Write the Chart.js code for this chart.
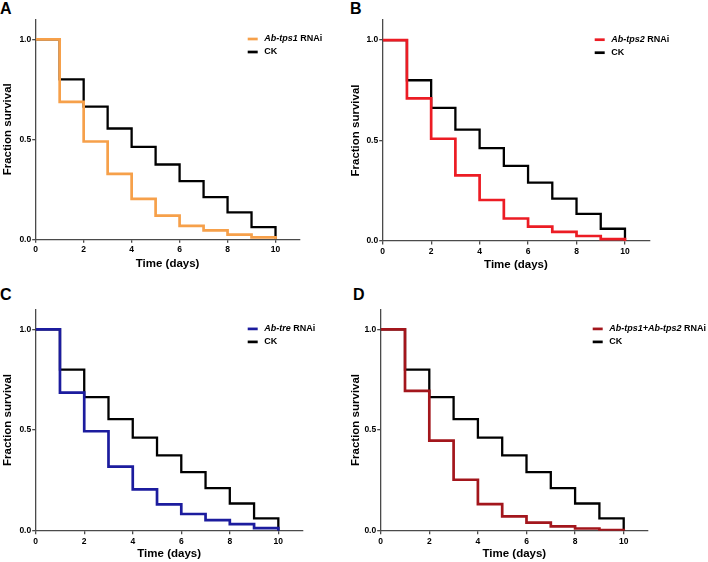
<!DOCTYPE html>
<html>
<head>
<meta charset="utf-8">
<script src="https://cdn.jsdelivr.net/npm/chart.js@4.4.0/dist/chart.umd.min.js"></script>
<style>
  html, body { margin: 0; padding: 0; background: #fff; }
  body { width: 708px; height: 562px; position: relative; overflow: hidden; font-family: "Liberation Sans", Arial, sans-serif; }
  canvas { position: absolute; }
  .tag { position: absolute; font-weight: bold; font-size: 16px; line-height: 16px; color: #000; }
</style>
</head>
<body>
<div class="tag" style="left:0px;top:1px">A</div>
<div class="tag" style="left:350px;top:1px">B</div>
<div class="tag" style="left:0px;top:287px">C</div>
<div class="tag" style="left:353px;top:287px">D</div>
<canvas id="chartA"></canvas>
<canvas id="chartB"></canvas>
<canvas id="chartC"></canvas>
<canvas id="chartD"></canvas>
<script>
// survival data (value after each day's drop)
const days = [0, 1, 2, 3, 4, 5, 6, 7, 8, 9, 10];
const ckSurvival   = [1, 0.80, 0.663, 0.554, 0.462, 0.374, 0.291, 0.211, 0.135, 0.061, 0];
const tps1Survival = [1, 0.687, 0.489, 0.327, 0.202, 0.118, 0.067, 0.045, 0.023, 0.010, 0];
const tps2Survival = [1, 0.710, 0.509, 0.327, 0.204, 0.112, 0.072, 0.045, 0.025, 0.009, 0];
const treSurvival  = [1, 0.686, 0.494, 0.318, 0.205, 0.131, 0.083, 0.053, 0.033, 0.013, 0];
const bothSurvival = [1, 0.694, 0.447, 0.253, 0.132, 0.071, 0.040, 0.021, 0.011, 0.003, 0];

const xTicks = [0, 2, 4, 6, 8, 10];
const yTicks = [0, 0.5, 1.0];

Chart.defaults.font.family = '"Liberation Sans", Arial, sans-serif';

const axisColor = '#4a4a4a';
const tickFont = { size: 8.5, weight: 'bold' };
const titleFont = { size: 11.5, weight: 'bold', lineHeight: 1.2 };
const halfTitle = 11.5 * 1.2 / 2;

function toPoints(vals) {
    return days.map((d, i) => ({ x: d, y: vals[i] }));
}

function makePanel(id, box, area, yTitleX, xTitleY, series, color, labelParts) {
    const cv = document.getElementById(id);
    cv.style.left = box[0] + 'px';
    cv.style.top = box[1] + 'px';
    cv.width = box[2];
    cv.height = box[3];
    const canvasBottom = box[1] + box[3];

    // legend with italic gene names
    const legendPlugin = {
        id: 'legend_' + id,
        afterDraw(chart) {
            const ctx = chart.ctx;
            const a = chart.chartArea;
            const x0 = a.left + 212;
            const y0 = a.top + 19.7;
            const rows = [
                { color: color, parts: labelParts },
                { color: '#000', parts: [{ t: 'CK' }] }
            ];
            ctx.save();
            rows.forEach((r, i) => {
                const y = y0 + i * 13;
                ctx.strokeStyle = r.color;
                ctx.lineWidth = 2.7;
                ctx.beginPath();
                ctx.moveTo(x0, y);
                ctx.lineTo(x0 + 10, y);
                ctx.stroke();
                let tx = x0 + 16.5;
                ctx.fillStyle = '#000';
                ctx.textBaseline = 'middle';
                r.parts.forEach(p => {
                    ctx.font = (p.i ? 'italic ' : '') + 'bold 9px "Liberation Sans", Arial, sans-serif';
                    ctx.fillText(p.t, tx, y);
                    tx += ctx.measureText(p.t).width;
                });
            });
            ctx.restore();
        }
    };

    new Chart(cv, {
        type: 'line',
        data: {
            datasets: [
                { data: toPoints(series), borderColor: color, borderWidth: 2.7, stepped: 'before', pointRadius: 0, fill: false, order: 0 },
                { data: toPoints(ckSurvival), borderColor: '#000', borderWidth: 2.3, stepped: 'before', pointRadius: 0, fill: false, order: 1 }
            ]
        },
        options: {
            responsive: false,
            animation: false,
            events: [],
            layout: { padding: { left: 0, top: area[1] - box[1], right: box[0] + box[2] - area[2], bottom: 0 } },
            plugins: { legend: { display: false }, tooltip: { enabled: false } },
            scales: {
                x: {
                    type: 'linear', min: 0, max: 11,
                    afterBuildTicks: s => { s.ticks = xTicks.map(v => ({ value: v })); },
                    afterFit: s => { s.height = canvasBottom - area[3]; },
                    ticks: { font: tickFont, color: '#000', padding: 2, autoSkip: false, maxRotation: 0, callback: v => String(v) },
                    grid: { drawOnChartArea: false, drawTicks: true, tickLength: 3.5, color: axisColor, lineWidth: 1.3 },
                    border: { display: true, color: axisColor, width: 1.3 },
                    title: { display: true, text: 'Time (days)', font: titleFont, color: '#000',
                             padding: { top: 0, bottom: canvasBottom - xTitleY - halfTitle } }
                },
                y: {
                    type: 'linear', min: 0, max: 1.1,
                    afterBuildTicks: s => { s.ticks = yTicks.map(v => ({ value: v })); },
                    afterFit: s => { s.width = area[0] - box[0]; },
                    ticks: { font: tickFont, color: '#000', padding: 1, callback: v => v.toFixed(1) },
                    grid: { drawOnChartArea: false, drawTicks: true, tickLength: 3.5, color: axisColor, lineWidth: 1.3 },
                    border: { display: true, color: axisColor, width: 1.3 },
                    title: { display: true, text: 'Fraction survival', font: titleFont, color: '#000',
                             padding: { top: yTitleX - box[0] - halfTitle, bottom: 0 } }
                }
            }
        },
        plugins: [legendPlugin]
    });
}

makePanel('chartA', [0, 0, 340, 281], [35.7, 19.3, 299.5, 239.3], 8.3, 263.5,
    tps1Survival, '#F6A04A', [{ t: 'Ab-tps1', i: true }, { t: ' RNAi' }]);
makePanel('chartB', [340, 0, 368, 281], [382.7, 20, 649.2, 241], 356, 265.3,
    tps2Survival, '#EC1C24', [{ t: 'Ab-tps2', i: true }, { t: ' RNAi' }]);
makePanel('chartC', [0, 281, 340, 281], [35.7, 309.2, 302.6, 530.7], 8.3, 554,
    treSurvival, '#1C1C9E', [{ t: 'Ab-tre', i: true }, { t: ' RNAi' }]);
makePanel('chartD', [340, 281, 368, 281], [380.7, 309.2, 648, 530.7], 356, 554.3,
    bothSurvival, '#A3161C', [{ t: 'Ab-tps1+Ab-tps2', i: true }, { t: ' RNAi' }]);
</script>
</body>
</html>
